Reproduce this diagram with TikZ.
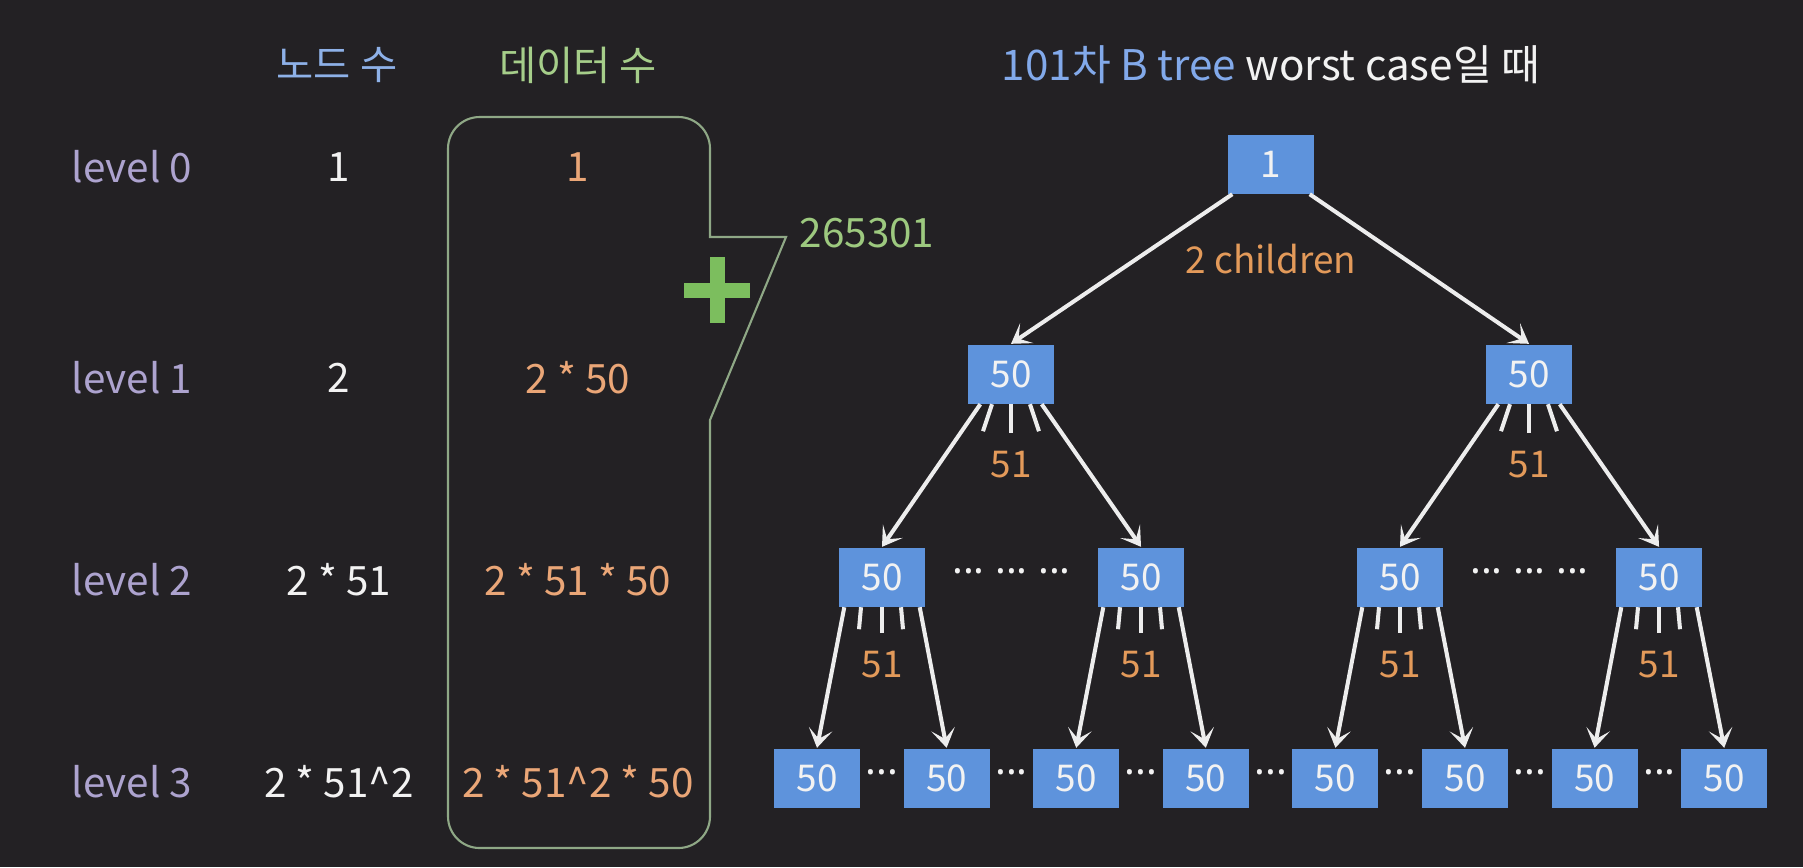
\documentclass[tikz,border=0pt]{standalone}
\usepackage{fontspec}
\setmainfont{Noto Sans CJK KR}
\newfontfamily\dotfont{Noto Sans}
\usetikzlibrary{arrows.meta,calc,positioning}
\definecolor{bg}{HTML}{232124}
\definecolor{lavender}{HTML}{ADA3CF}
\definecolor{offwhite}{HTML}{F2F2F2}
\definecolor{peach}{HTML}{EAA677}
\definecolor{amber}{HTML}{E39A5A}
\definecolor{hdrblue}{HTML}{8EB1E8}
\definecolor{hdrgreen}{HTML}{A6CE8A}
\definecolor{sumgreen}{HTML}{9DC97F}
\definecolor{plusgreen}{HTML}{7CBE5E}
\definecolor{calloutline}{HTML}{8FA886}
\definecolor{titleblue}{HTML}{82A9EA}
\definecolor{boxblue}{HTML}{5E93DC}
\definecolor{arrowwhite}{HTML}{EDEDED}
\newcommand{\txtsize}{\fontsize{11.5}{14}\selectfont}
\newcommand{\treesize}{\fontsize{10.5}{13}\selectfont}
\begin{document}
\begin{tikzpicture}[x=0.1mm, y=-0.1mm,
		txt/.style={font=\txtsize, inner sep=1pt},
		lvl/.style={txt, text=lavender},
		cnt/.style={txt, text=offwhite},
		dat/.style={txt, text=peach},
		clbl/.style={font=\treesize, inner sep=1pt, text=amber},
		dotrow/.style={font=\dotfont\txtsize, text=offwhite, inner sep=0pt},
		bbox/.style={font=\treesize, fill=boxblue, text=offwhite, minimum width=8.6mm, minimum height=5.9mm, inner sep=0pt},
		edge/.style={draw=arrowwhite, line width=1.15pt, -{Stealth[length=5.4pt,width=6.8pt,inset=2.8pt]}},
		tick/.style={draw=arrowwhite, line width=1.15pt}]
		\fill[bg] (0,0) rectangle (1803,867);

		\node[txt, text=hdrblue] (hnodes) at (337,65) {노드 수};
		\node[txt, text=hdrgreen] (hdata) at (578,65) {데이터 수};
		\node[font=\fontsize{12}{14}\selectfont, text=offwhite] (title) at (1271,65) {\textcolor{titleblue}{101차 B tree} worst case일 때};

		\foreach \t/\y in {0/167,1/378,2/580,3/782}
			\node[lvl] (lv\t) at (132,\y) {level \t};

		\node[cnt] (n0) at (339,167) {1};
		\node[cnt] (n1) at (339,378) {2};
		\node[cnt] (n2) at (339,580) {2 * 51};
		\node[cnt] (n3) at (339,782) {2 * 51\textasciicircum 2};

		\node[dat] (d0) at (578,167) {1};
		\node[dat] (d1) at (578,378) {2 * 50};
		\node[dat] (d2) at (578,580) {2 * 51 * 50};
		\node[dat] (d3) at (578,782) {2 * 51\textasciicircum 2 * 50};

		\draw[calloutline, line width=0.6pt] (710,600) [rounded corners=9pt] -- (710,848) -- (448,848) -- (448,117) -- (710,117) -- (710,180)
			[sharp corners] -- (710,237) -- (786,237) -- (710,420) -- cycle;
		\draw[plusgreen, line width=1.5mm] (684,290) -- (750,290) (717,257) -- (717,323);
		\node[txt, text=sumgreen] (sum) at (867,233) {265301};

		\node[bbox] (r) at (1271,164) {1};
		\node[bbox] (a) at (1011,374) {50};
		\node[bbox] (b) at (1529,374) {50};
		\node[bbox] (a1) at (882,577) {50};
		\node[bbox] (a2) at (1141,577) {50};
		\node[bbox] (b1) at (1400,577) {50};
		\node[bbox] (b2) at (1659,577) {50};
		\foreach \i in {1,...,8}
			\node[bbox] (c\i) at ({817+129.6*(\i-1)},778) {50};
		\foreach \i [evaluate=\i as \j using int(\i+1)] in {1,...,7}
			\node[dotrow] (g\i) at ($(c\i)!0.5!(c\j)$) {···};
		\node[dotrow] (ga) at ($(a1)!0.5!(a2)$) {··· ··· ···};
		\node[dotrow] (gb) at ($(b1)!0.5!(b2)$) {··· ··· ···};

		\draw[edge] ([xshift=0.5mm]r.south west) -- (a.north);
		\draw[edge] ([xshift=-0.5mm]r.south east) -- (b.north);
		\node[clbl] (kids) at ([yshift=-6.5mm]r.south) {2 children};

		\foreach \p/\l/\r in {a/a1/a2, b/b1/b2} {
			\draw[edge] ([xshift=1.3mm]\p.south west) -- (\l.north);
			\draw[edge] ([xshift=-1.3mm]\p.south east) -- (\r.north);
			\foreach \u/\v/\h in {-19/-9/27, 0/0/29, 19/9/27}
				\draw[tick] ([xshift=\u*0.1mm]\p.south) -- ++(\v,\h);
			\node[clbl] (k\p) at ([yshift=-6mm]\p.south) {51};
		}

		\foreach \p/\l/\r in {a1/c1/c2, a2/c3/c4, b1/c5/c6, b2/c7/c8} {
			\draw[edge] ([xshift=0.6mm]\p.south west) -- (\l.north);
			\draw[edge] ([xshift=-0.6mm]\p.south east) -- (\r.north);
			\foreach \u/\v/\h in {-21/-2/22, 0/0/26, 19/2/22}
				\draw[tick] ([xshift=\u*0.1mm]\p.south) -- ++(\v,\h);
			\node[clbl] (k\p) at ([yshift=-5.7mm]\p.south) {51};
		}
	\end{tikzpicture}
\end{document}
